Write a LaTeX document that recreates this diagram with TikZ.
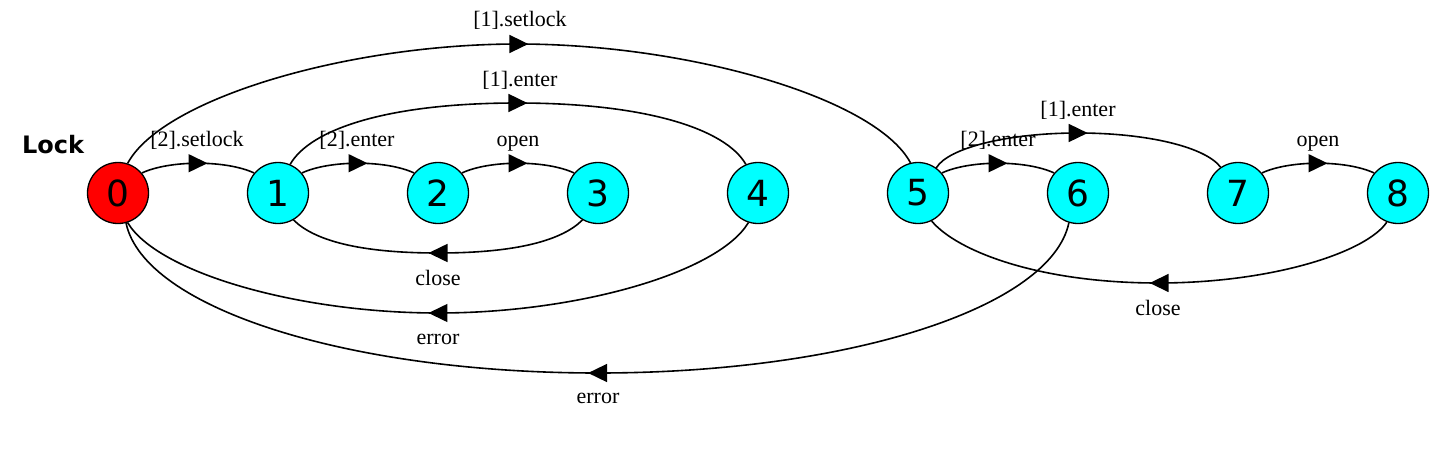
\documentclass[tikz,border=0pt]{standalone}
\usepackage{fontspec}
\setmainfont{Liberation Serif}
\newfontfamily\numfont{DejaVu Sans}
\usetikzlibrary{arrows.meta,decorations.markings}
\definecolor{nred}{RGB}{255,0,0}
\definecolor{ncyan}{RGB}{0,255,255}
\tikzset{
  st/.style={circle,draw=black,line width=1.3pt,minimum size=61pt,inner sep=0pt,
    font=\numfont\fontsize{36}{40}\selectfont},
  init/.style={st,fill=nred},
  norm/.style={st,fill=ncyan},
  tr/.style={line width=1.6pt,postaction={decorate},
    decoration={markings,mark=at position 0.5 with {\arrow[xshift=9.5pt]{Triangle[length=19pt,width=18pt]}}}},
  lab/.style={font=\fontsize{22}{26}\selectfont,anchor=base,inner sep=0pt}
}
\begin{document}
\begin{tikzpicture}[x=1pt,y=-1pt]
\path[use as bounding box,fill=white] (0,0) rectangle (1452,448);
\node[font=\numfont\bfseries\fontsize{24}{28}\selectfont,anchor=base west,inner sep=0pt] (title) at (22,153) {Lock};
\node[init] (n0) at (118,193) {0};
\node[norm] (n1) at (278,193) {1};
\node[norm] (n2) at (438,193) {2};
\node[norm] (n3) at (598,193) {3};
\node[norm] (n4) at (758,193) {4};
\node[norm] (n5) at (918,193) {5};
\node[norm] (n6) at (1078,193) {6};
\node[norm] (n7) at (1238,193) {7};
\node[norm] (n8) at (1398,193) {8};
% short arcs
\draw[tr] (n0.40) .. controls +(28,-13) and +(-28,-13) .. (n1.140);
\draw[tr] (n1.40) .. controls +(28,-13) and +(-28,-13) .. (n2.140);
\draw[tr] (n2.40) .. controls +(28,-13) and +(-28,-13) .. (n3.140);
\draw[tr] (n5.40) .. controls +(28,-13) and +(-28,-13) .. (n6.140);
\draw[tr] (n7.40) .. controls +(28,-13) and +(-28,-13) .. (n8.140);
% 1 -> 4
\draw[tr] (n1.67) .. controls +(20,-35) and (387,103) .. (517,103)
  .. controls (647,103) and +(-20,-35) .. (n4.113);
% 0 -> 5
\draw[tr] (n0.72) .. controls +(35,-65) and (348,44) .. (518,44)
  .. controls (688,44) and +(-35,-65) .. (n5.104);
% 3 -> 1
\draw[tr] (n3.240) .. controls +(-20,20) and (518,253) .. (438,253)
  .. controls (358,253) and +(20,20) .. (n1.300);
% 4 -> 0
\draw[tr] (n4.252) .. controls +(-30,50) and (578,313) .. (438,313)
  .. controls (298,313) and +(30,50) .. (n0.288);
% 6 -> 0
\draw[tr] (n6.253) .. controls +(-18,85) and (848,373) .. (598,373)
  .. controls (348,373) and +(18,85) .. (n0.285);
% 5 -> 7
\draw[tr] (n5.54) .. controls +(12,-20) and (1008,133) .. (1078,133)
  .. controls (1148,133) and +(-15,-20) .. (n7.124);
% 8 -> 5
\draw[tr] (n8.249) .. controls +(-20,30) and (1273,283) .. (1158,283)
  .. controls (1038,283) and +(25,30) .. (n5.296);
% labels
\node[lab] (l01) at (197,146) {[2].setlock};
\node[lab] (l12) at (357,146) {[2].enter};
\node[lab] (l23) at (518,146) {open};
\node[lab] (l14) at (520,86) {[1].enter};
\node[lab] (l05) at (520,26) {[1].setlock};
\node[lab] (l31) at (438,285) {close};
\node[lab] (l40) at (438,344) {error};
\node[lab] (l60) at (598,403) {error};
\node[lab] (l56) at (998,146) {[2].enter};
\node[lab] (l57) at (1078,116) {[1].enter};
\node[lab] (l78) at (1318,146) {open};
\node[lab] (l85) at (1158,315) {close};
\end{tikzpicture}
\end{document}
